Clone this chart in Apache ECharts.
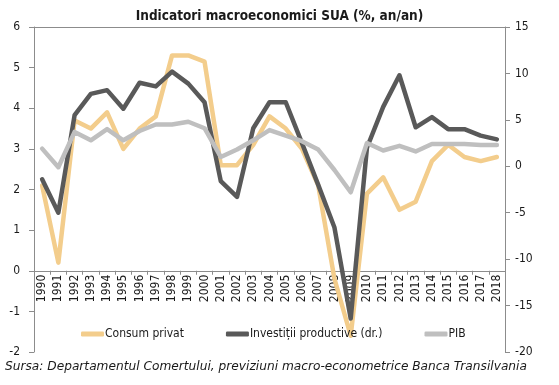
<!DOCTYPE html>
<html>
<head>
<meta charset="utf-8">
<script src="https://cdn.jsdelivr.net/npm/echarts@6/dist/echarts.min.js"></script>
<style>
html,body{margin:0;padding:0;background:#fff;}
#chart{width:559px;height:385px;}
</style>
</head>
<body>
<div id="chart"></div>
<script>
var years = ['1990','1991','1992','1993','1994','1995','1996','1997','1998','1999','2000','2001','2002','2003','2004','2005','2006','2007','2008','2009','2010','2011','2012','2013','2014','2015','2016','2017','2018'];
var consumPrivat = [2.1, 0.2, 3.7, 3.5, 3.9, 3.0, 3.5, 3.8, 5.3, 5.3, 5.15, 2.6, 2.6, 3.1, 3.8, 3.5, 3.0, 2.1, -0.2, -1.6, 1.9, 2.3, 1.5, 1.7, 2.7, 3.1, 2.8, 2.7, 2.8];
var investitii = [-1.4, -5.0, 5.5, 7.8, 8.2, 6.2, 9.0, 8.6, 10.2, 8.9, 6.9, -1.6, -3.3, 4.1, 6.9, 6.9, 2.5, -2.0, -6.6, -16.4, 2.0, 6.4, 9.8, 4.2, 5.3, 4.0, 4.0, 3.3, 2.9];
var pib = [1.9, -0.1, 3.7, 2.8, 4.0, 2.8, 3.8, 4.5, 4.5, 4.8, 4.1, 1.0, 1.8, 2.8, 3.9, 3.3, 2.7, 1.8, -0.4, -2.8, 2.5, 1.7, 2.2, 1.6, 2.4, 2.4, 2.4, 2.3, 2.3];
var leftTicks = {min: -2, max: 6, interval: 1};
var rightTicks = {min: -20, max: 15, interval: 5};

var FONT = '"DejaVu Sans Condensed", "DejaVu Sans", sans-serif';
var axisColor = '#8c8c8c';
var textColor = '#1a1a1a';

var plotTop = 27, plotBottom = 33;
var plotH = 385 - plotTop - plotBottom;
var zeroY = plotTop + plotH * (leftTicks.max - 0) / (leftTicks.max - leftTicks.min);

var chart = echarts.init(document.getElementById('chart'), null, {renderer: 'canvas'});
chart.setOption({
  animation: false,
  backgroundColor: '#fff',
  title: {
    text: 'Indicatori macroeconomici SUA (%, an/an)',
    left: 'center',
    top: 4,
    textStyle: {fontFamily: FONT, fontSize: 13.5, fontWeight: 'bold', color: textColor}
  },
  grid: [
    {left: 34, right: 54, top: plotTop, bottom: plotBottom, containLabel: false},
    {left: 34, right: 54, top: plotTop, height: zeroY - plotTop, containLabel: false}
  ],
  legend: {
    left: 76, top: 323,
    itemWidth: 23, itemHeight: 5, itemGap: 42,
    icon: 'roundRect',
    textStyle: {fontFamily: FONT, fontSize: 12, color: textColor, padding: [0,0,0,-4]},
    data: ['Consum privat', 'Investiții productive (dr.)', 'PIB']
  },
  xAxis: [{
    gridIndex: 0,
    type: 'category',
    data: years,
    position: 'top',
    boundaryGap: true,
    axisLine: {show: true, onZero: false, lineStyle: {color: axisColor, width: 1}},
    axisTick: {show: false},
    axisLabel: {show: false}
  }, {
    gridIndex: 1,
    type: 'category',
    data: years,
    position: 'bottom',
    boundaryGap: true,
    axisLine: {show: true, onZero: false, lineStyle: {color: axisColor, width: 1}},
    axisTick: {show: true, length: 4, lineStyle: {color: axisColor}},
    axisLabel: {rotate: 90, interval: 0, fontFamily: FONT, fontSize: 12, color: textColor, margin: 4}
  }],
  yAxis: [{
    gridIndex: 0,
    type: 'value', min: leftTicks.min, max: leftTicks.max, interval: leftTicks.interval,
    splitLine: {show: false},
    axisLine: {show: true, lineStyle: {color: axisColor}},
    axisTick: {show: true, length: 5, lineStyle: {color: axisColor}},
    axisLabel: {fontFamily: FONT, fontSize: 12, color: textColor, margin: 14}
  }, {
    gridIndex: 0,
    type: 'value', min: rightTicks.min, max: rightTicks.max, interval: rightTicks.interval, position: 'right',
    splitLine: {show: false},
    axisLine: {show: true, lineStyle: {color: axisColor}},
    axisTick: {show: true, length: 5, lineStyle: {color: axisColor}},
    axisLabel: {fontFamily: FONT, fontSize: 12, color: textColor, margin: 10}
  }, {
    gridIndex: 1,
    type: 'value', min: 0, max: 1, show: false
  }],
  series: [{
    name: 'Consum privat', type: 'line', data: consumPrivat, xAxisIndex: 0, yAxisIndex: 0,
    symbol: 'none', color: '#F3CD8C',
    lineStyle: {width: 4.5, color: '#F3CD8C', join: 'round', cap: 'round'}
  }, {
    name: 'Investiții productive (dr.)', type: 'line', data: investitii, xAxisIndex: 0, yAxisIndex: 1,
    symbol: 'none', color: '#595959',
    lineStyle: {width: 4.5, color: '#595959', join: 'round', cap: 'round'}
  }, {
    name: 'PIB', type: 'line', data: pib, xAxisIndex: 0, yAxisIndex: 1,
    symbol: 'none', color: '#BFBFBF',
    lineStyle: {width: 4.5, color: '#BFBFBF', join: 'round', cap: 'round'}
  }],
  graphic: [{
    type: 'text', left: 5, top: 361,
    style: {
      text: 'Sursa: Departamentul Comertului, previziuni macro-econometrice Banca Transilvania',
      font: 'italic 12.2px "DejaVu Sans", sans-serif', fill: textColor
    }
  }]
});
</script>
</body>
</html>
